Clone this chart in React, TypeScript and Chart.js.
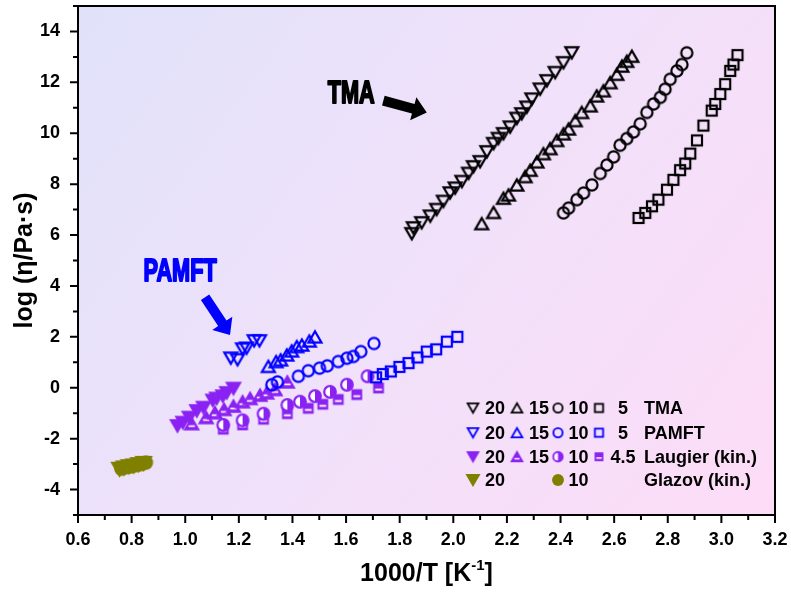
import React, { useEffect, useRef } from "react";
import { Chart, registerables } from "chart.js";
Chart.register(...registerables);

// ---------- data (1000/T [1/K], log viscosity) ----------
const tma20: number[][] = [[1.845,6.05],[1.851,6.28],[1.882,6.48],[1.914,6.74],[1.938,7.0],[1.963,7.32],[1.988,7.65],[2.007,7.84],[2.032,8.1],[2.057,8.42],[2.075,8.68],[2.1,8.88],[2.125,9.27],[2.15,9.59],[2.168,9.79],[2.187,9.98],[2.212,10.24],[2.237,10.58],[2.255,10.76],[2.274,11.02],[2.293,11.34],[2.324,11.73],[2.349,12.06],[2.38,12.38],[2.411,12.77],[2.442,13.16]];
const tma15: number[][] = [[2.106,6.45],[2.15,6.89],[2.187,7.45],[2.206,7.58],[2.237,7.97],[2.268,8.3],[2.287,8.55],[2.312,8.88],[2.336,9.2],[2.361,9.4],[2.386,9.72],[2.411,9.98],[2.43,10.17],[2.455,10.5],[2.479,10.82],[2.511,11.08],[2.535,11.47],[2.56,11.67],[2.585,11.99],[2.61,12.32],[2.629,12.64],[2.647,12.83],[2.666,13.03]];
const tma10: number[][] = [[2.411,6.87],[2.43,7.06],[2.461,7.39],[2.486,7.65],[2.517,7.97],[2.548,8.42],[2.573,8.75],[2.598,9.07],[2.622,9.53],[2.647,9.79],[2.672,10.05],[2.697,10.37],[2.722,10.82],[2.747,11.15],[2.772,11.41],[2.79,11.73],[2.809,12.12],[2.834,12.45],[2.853,12.7],[2.871,13.16]];
const tma5: number[][] = [[2.691,6.67],[2.716,6.87],[2.741,7.13],[2.765,7.39],[2.797,7.78],[2.821,8.17],[2.846,8.55],[2.865,8.81],[2.884,9.2],[2.909,9.72],[2.933,10.3],[2.964,10.89],[2.977,11.15],[2.996,11.54],[3.014,11.93],[3.033,12.45],[3.045,12.7],[3.06,13.07]];

const pamft20: number[][] = [[1.17,1.16],[1.195,1.1],[1.214,1.52],[1.229,1.55],[1.257,1.84],[1.277,1.84]];
const pamft15: number[][] = [[1.31,0.84],[1.339,1.03],[1.356,1.1],[1.379,1.29],[1.397,1.45],[1.416,1.62],[1.435,1.68],[1.463,1.84],[1.484,2.0]];
const pamft10: number[][] = [[1.323,0.12],[1.344,0.23],[1.422,0.45],[1.459,0.67],[1.501,0.77],[1.53,0.86],[1.571,1.03],[1.603,1.16],[1.627,1.23],[1.655,1.42],[1.704,1.74]];
const pamft5: number[][] = [[1.712,0.41],[1.737,0.54],[1.767,0.64],[1.799,0.82],[1.833,0.97],[1.866,1.19],[1.901,1.42],[1.936,1.51],[1.976,1.81],[2.015,2.0]];

const laugier20: number[][] = [[0.971,-1.5],[0.991,-1.37],[1.015,-1.17],[1.043,-0.91],[1.068,-0.78],[1.103,-0.5],[1.117,-0.42],[1.14,-0.33],[1.155,-0.2],[1.18,-0.03]];
const laugier15: number[][] = [[1.024,-1.41],[1.078,-1.17],[1.111,-0.98],[1.145,-0.85],[1.18,-0.72],[1.214,-0.55],[1.242,-0.42],[1.279,-0.29],[1.304,-0.2],[1.335,-0.07],[1.381,0.23]];
const laugier10: number[][] = [[1.142,-1.46],[1.214,-1.28],[1.292,-1.02],[1.381,-0.68],[1.428,-0.55],[1.484,-0.33],[1.54,-0.16],[1.603,0.12],[1.68,0.45]];
const laugier45: number[][] = [[1.142,-1.63],[1.214,-1.46],[1.292,-1.24],[1.381,-1.02],[1.459,-0.81],[1.513,-0.65],[1.571,-0.46],[1.64,-0.27],[1.721,-0.01]];

const glazov20: number[][] = [[0.755,-3.2],[0.772,-3.15],[0.79,-3.1],[0.808,-3.07],[0.826,-3.02],[0.845,-2.97]];
const glazov10: number[][] = [[0.762,-3.18],[0.78,-3.12],[0.798,-3.09],[0.817,-3.04],[0.835,-3.0],[0.853,-2.94]];

const xTickMin = 0.6, xTickMax = 3.2, xStep = 0.1;
const yTickMin = -5, yTickMax = 15, yStep = 1;

const legendRows = [
  { labels: ["20", "15", "10", "5"], name: "TMA", set: "tma" },
  { labels: ["20", "15", "10", "5"], name: "PAMFT", set: "pamft" },
  { labels: ["20", "15", "10", "4.5"], name: "Laugier (kin.)", set: "laugier" },
  { labels: ["20", "", "10", ""], name: "Glazov (kin.)", set: "glazov" },
];

const BLACK = "#000000", BLUE = "#0000ff", PURPLE = "#8a22f2", OLIVE = "#808000";
const FONT = "'Liberation Sans', Arial, sans-serif";

type Kind = "triDown" | "triUp" | "circle" | "square" | "triDownFill" | "triUpBar" | "circleHalf" | "squareBar" | "circleFill";

function makeMarker(kind: Kind, color: string, k = 1): HTMLCanvasElement {
  const S = Math.ceil(30 * k);
  const c = document.createElement("canvas");
  c.width = S; c.height = S;
  const g = c.getContext("2d")!;
  const cx = S / 2, cy = S / 2;
  g.lineWidth = 2.2 * k;
  g.strokeStyle = color;
  g.fillStyle = color;
  g.lineJoin = "miter";
  const tri = (down: boolean, side: number) => {
    const h = side * 0.866;
    g.beginPath();
    if (down) {
      g.moveTo(cx - side / 2, cy - h / 2);
      g.lineTo(cx + side / 2, cy - h / 2);
      g.lineTo(cx, cy + h / 2);
    } else {
      g.moveTo(cx - side / 2, cy + h / 2);
      g.lineTo(cx + side / 2, cy + h / 2);
      g.lineTo(cx, cy - h / 2);
    }
    g.closePath();
  };
  switch (kind) {
    case "triDown": tri(true, 13 * k); g.stroke(); break;
    case "triUp": tri(false, 13 * k); g.stroke(); break;
    case "circle": g.beginPath(); g.arc(cx, cy, 5.6 * k, 0, Math.PI * 2); g.stroke(); break;
    case "square": g.strokeRect(cx - 5 * k, cy - 5 * k, 10 * k, 10 * k); break;
    case "triDownFill": tri(true, 13 * k); g.fill(); g.stroke(); break;
    case "circleFill": g.beginPath(); g.arc(cx, cy, 6.6 * k, 0, Math.PI * 2); g.fill(); break;
    case "triUpBar": {
      tri(false, 13 * k); g.fill(); g.stroke();
      g.fillStyle = "#ffffff";
      g.fillRect(cx - 3.2 * k, cy + 1.6 * k, 6.4 * k, 1.7 * k);
      break;
    }
    case "circleHalf": {
      const r = 5.8 * k;
      g.fillStyle = "#ffffff";
      g.beginPath(); g.arc(cx, cy, r, 0, Math.PI * 2); g.fill();
      g.fillStyle = color;
      g.beginPath(); g.arc(cx, cy, r, -Math.PI / 2, Math.PI / 2); g.closePath(); g.fill();
      g.beginPath(); g.arc(cx, cy, r, 0, Math.PI * 2); g.stroke();
      break;
    }
    case "squareBar": {
      const s = 5.4 * k;
      g.fillRect(cx - s, cy - s, 2 * s, 2 * s);
      g.fillStyle = "#ffffff";
      g.fillRect(cx - s + 2 * k, cy + 0.6 * k, 2 * s - 4 * k, 1.9 * k);
      break;
    }
  }
  return c;
}

export default function App() {
  const ref = useRef<HTMLCanvasElement | null>(null);

  useEffect(() => {
    document.body.style.margin = "0";
    const canvas = ref.current!;
    const toPts = (a: number[][]) => a.map(([x, y]) => ({ x, y }));

    const mk = (k: number) => ({
      tma: [makeMarker("triDown", BLACK, k), makeMarker("triUp", BLACK, k), makeMarker("circle", BLACK, k), makeMarker("square", BLACK, k)],
      pamft: [makeMarker("triDown", BLUE, k), makeMarker("triUp", BLUE, k), makeMarker("circle", BLUE, k), makeMarker("square", BLUE, k)],
      laugier: [makeMarker("triDownFill", PURPLE, k), makeMarker("triUpBar", PURPLE, k), makeMarker("circleHalf", PURPLE, k), makeMarker("squareBar", PURPLE, k)],
      glazov: [makeMarker("triDownFill", OLIVE, k * 1.1), null, makeMarker("circleFill", OLIVE, k * 1.1), null],
    } as Record<string, (HTMLCanvasElement | null)[]>);
    const M = mk(1);
    const L = mk(0.82);

    const ds = (label: string, data: number[][], style: HTMLCanvasElement | null) => ({
      label,
      data: toPts(data),
      showLine: false,
      pointStyle: style as any,
      pointRadius: 5,
      pointHoverRadius: 5,
    });

    const bgPlugin = {
      id: "bg",
      beforeDatasetsDraw(chart: any) {
        const { ctx, chartArea: a } = chart;
        const gr = ctx.createLinearGradient(a.left, a.top, a.right, a.bottom);
        gr.addColorStop(0, "#e0e2fa");
        gr.addColorStop(0.5, "#f1e1fa");
        gr.addColorStop(1, "#fddcf7");
        ctx.save();
        ctx.fillStyle = gr;
        ctx.fillRect(a.left, a.top, a.right - a.left, a.bottom - a.top);
        ctx.restore();
      },
    };

    const drawArrow = (ctx: CanvasRenderingContext2D, x1: number, y1: number, x2: number, y2: number, color: string) => {
      const dx = x2 - x1, dy = y2 - y1;
      const len = Math.hypot(dx, dy);
      const ux = dx / len, uy = dy / len;
      const nx = -uy, ny = ux;
      const sw = 5, hw = 12, hl = 14;
      const bx = x2 - ux * hl, by = y2 - uy * hl;
      ctx.save();
      ctx.fillStyle = color;
      ctx.beginPath();
      ctx.moveTo(x1 + nx * sw, y1 + ny * sw);
      ctx.lineTo(bx + nx * sw, by + ny * sw);
      ctx.lineTo(bx + nx * hw, by + ny * hw);
      ctx.lineTo(x2, y2);
      ctx.lineTo(bx - nx * hw, by - ny * hw);
      ctx.lineTo(bx - nx * sw, by - ny * sw);
      ctx.lineTo(x1 - nx * sw, y1 - ny * sw);
      ctx.closePath();
      ctx.fill();
      ctx.restore();
    };

    const heavyText = (ctx: CanvasRenderingContext2D, text: string, x: number, y: number, color: string) => {
      ctx.save();
      ctx.translate(x, y);
      ctx.scale(0.7, 1);
      ctx.font = `bold 31px ${FONT}`;
      ctx.textAlign = "center";
      ctx.textBaseline = "middle";
      ctx.fillStyle = color;
      ctx.strokeStyle = color;
      ctx.lineWidth = 2;
      ctx.lineJoin = "round";
      ctx.fillText(text, 0, 1);
      ctx.strokeText(text, 0, 1);
      ctx.restore();
    };

    const overlay = {
      id: "overlay",
      afterDraw(chart: any) {
        const { ctx, chartArea: a, scales } = chart;
        const xs = scales.x, ys = scales.y;
        ctx.save();
        // frame
        ctx.strokeStyle = "#000";
        ctx.lineWidth = 2;
        ctx.strokeRect(a.left, a.top, a.right - a.left, a.bottom - a.top);
        // ticks
        ctx.beginPath();
        xs.ticks.forEach((t: any) => {
          const px = xs.getPixelForValue(t.value);
          const major = Math.round(t.value * 10) % 2 === 0;
          ctx.moveTo(px, a.bottom);
          ctx.lineTo(px, a.bottom + (major ? 8 : 5));
        });
        ys.ticks.forEach((t: any) => {
          const py = ys.getPixelForValue(t.value);
          const major = Math.round(t.value) % 2 === 0;
          ctx.moveTo(a.left, py);
          ctx.lineTo(a.left - (major ? 8 : 5), py);
        });
        ctx.stroke();

        // axis titles
        ctx.fillStyle = "#000";
        ctx.textBaseline = "middle";
        const big = `bold 25px ${FONT}`, small = `bold 15px ${FONT}`;
        ctx.font = big;
        const main = "1000/T [K", sup = "-1", tail = "]";
        const wMain = ctx.measureText(main).width;
        const wTail = ctx.measureText(tail).width;
        ctx.font = small;
        const wSup = ctx.measureText(sup).width;
        const total = wMain + wSup + wTail;
        const yT = 574;
        let xx = (a.left + a.right) / 2 - total / 2;
        ctx.textAlign = "left";
        ctx.font = big; ctx.fillText(main, xx, yT); xx += wMain;
        ctx.font = small; ctx.fillText(sup, xx, yT - 8); xx += wSup;
        ctx.font = big; ctx.fillText(tail, xx, yT);

        ctx.save();
        ctx.translate(25, (a.top + a.bottom) / 2);
        ctx.rotate(-Math.PI / 2);
        ctx.textAlign = "center";
        ctx.font = big;
        ctx.fillText("log (η/Pa·s)", 0, 0);
        ctx.restore();

        // annotations
        heavyText(ctx, "TMA", xs.getPixelForValue(1.619), ys.getPixelForValue(11.58), "#000");
        drawArrow(ctx, xs.getPixelForValue(1.739), ys.getPixelForValue(11.28), xs.getPixelForValue(1.901), ys.getPixelForValue(10.82), "#000");
        heavyText(ctx, "PAMFT", xs.getPixelForValue(0.981), ys.getPixelForValue(4.57), "#0000ff");
        drawArrow(ctx, xs.getPixelForValue(1.074), ys.getPixelForValue(3.56), xs.getPixelForValue(1.167), ys.getPixelForValue(2.07), "#0000ff");

        // legend
        const rowY = [408, 432.7, 456.7, 480];
        const mX = [473, 517, 558, 599];
        const tX = [485, 529, 568.5, 623];
        ctx.font = `bold 18px ${FONT}`;
        legendRows.forEach((row, i) => {
          const y = rowY[i];
          const marks = L[row.set];
          for (let j = 0; j < 4; j++) {
            const m = marks[j];
            if (m) ctx.drawImage(m, mX[j] - m.width / 2, y - m.height / 2);
            if (row.labels[j]) {
              ctx.fillStyle = "#000";
              ctx.textAlign = j === 3 ? "center" : "left";
              ctx.fillText(row.labels[j], tX[j], y + 1);
            }
          }
          ctx.textAlign = "left";
          ctx.fillText(row.name, 644, y + 1);
        });
        ctx.restore();
      },
    };

    const zeroPad = (s: any) => { s.paddingTop = 0; s.paddingBottom = 0; s.paddingLeft = 0; s.paddingRight = 0; };

    const chart = new Chart(canvas, {
      type: "scatter",
      data: {
        datasets: [
          ds("TMA 20", tma20, M.tma[0]),
          ds("TMA 15", tma15, M.tma[1]),
          ds("TMA 10", tma10, M.tma[2]),
          ds("TMA 5", tma5, M.tma[3]),
          ds("PAMFT 20", pamft20, M.pamft[0]),
          ds("PAMFT 15", pamft15, M.pamft[1]),
          ds("PAMFT 10", pamft10, M.pamft[2]),
          ds("PAMFT 5", pamft5, M.pamft[3]),
          ds("Laugier 20", laugier20, M.laugier[0]),
          ds("Laugier 15", laugier15, M.laugier[1]),
          ds("Laugier 10", laugier10, M.laugier[2]),
          ds("Laugier 4.5", laugier45, M.laugier[3]),
          ds("Glazov 20", glazov20, M.glazov[0]),
          ds("Glazov 10", glazov10, M.glazov[2]),
        ] as any,
      },
      options: {
        responsive: false,
        animation: false,
        layout: { padding: { top: 1, right: 16, left: 0, bottom: 0 } },
        plugins: { legend: { display: false }, tooltip: { enabled: false } },
        scales: {
          x: {
            type: "linear",
            min: xTickMin,
            max: xTickMax,
            grid: { display: false, drawTicks: false },
            border: { display: false },
            afterFit: (s: any) => { s.height = 79; zeroPad(s); },
            ticks: {
              stepSize: xStep,
              autoSkip: false,
              maxRotation: 0,
              padding: 14,
              color: "#000",
              font: { family: FONT, size: 18, weight: "bold" },
              callback: (v: any) => {
                const k = Math.round(Number(v) * 10);
                return k % 2 === 0 ? (k / 10).toFixed(1) : "";
              },
            },
          },
          y: {
            type: "linear",
            min: yTickMin,
            max: yTickMax,
            grid: { display: false, drawTicks: false },
            border: { display: false },
            afterFit: (s: any) => { s.width = 78; zeroPad(s); },
            ticks: {
              stepSize: yStep,
              autoSkip: false,
              padding: 18,
              color: "#000",
              font: { family: FONT, size: 18, weight: "bold" },
              callback: (v: any) => {
                const n = Math.round(Number(v));
                return n % 2 === 0 ? String(n) : "";
              },
            },
          },
        },
      } as any,
      plugins: [bgPlugin, overlay],
    });
    return () => chart.destroy();
  }, []);

  return <canvas ref={ref} width={791} height={594} style={{ display: "block" }} />;
}
